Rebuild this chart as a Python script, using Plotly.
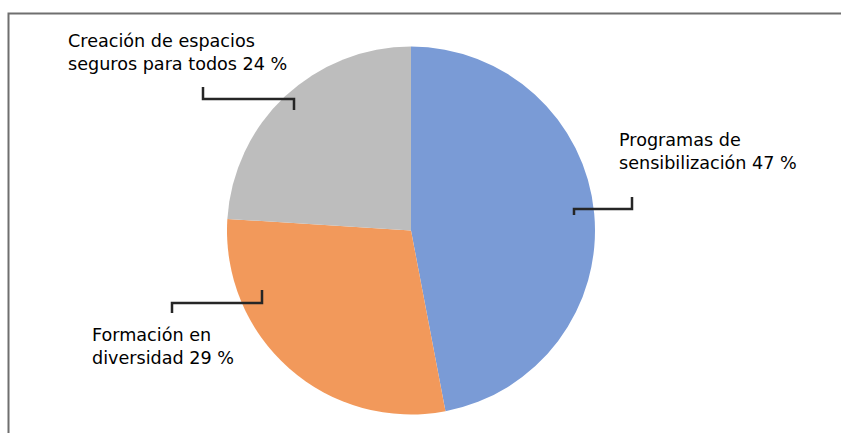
import plotly.graph_objects as go

# Data
categories = ["Programas de sensibilización", "Formación en diversidad", "Creación de espacios seguros para todos"]
values = [47, 29, 24]
label_texts = ["Programas de<br>sensibilización 47 %", "Formación en<br>diversidad 29 %", "Creación de espacios<br>seguros para todos 24 %"]
colors = ["#7A9BD6", "#F2995B", "#BDBDBD"]

W, H = 841, 433

def px(x):
    return x / W

def py(y):
    return 1 - y / H

cx, cy, r = 411, 230.5, 184

fig = go.Figure(go.Pie(
    labels=categories,
    values=values,
    sort=False,
    direction="clockwise",
    rotation=0,
    marker=dict(colors=colors, line=dict(width=0)),
    textinfo="none",
    hoverinfo="label+percent",
    showlegend=False,
    domain=dict(x=[px(cx - r), px(cx + r)], y=[py(cy + r), py(cy - r)]),
))

# label positions (pixel layout) and leader lines (bracket shapes)
label_pos = [(617, 152), (90, 346), (66, 53)]
leaders = [
    [(574, 215), (574, 209), (632, 209), (632, 197)],
    [(262, 290), (262, 303), (172, 303), (172, 313)],
    [(294, 110), (294, 99), (203, 99), (203, 87)],
]

annotations = []
for t, (x, y) in zip(label_texts, label_pos):
    annotations.append(dict(
        text=t, x=px(x), y=py(y), xref="paper", yref="paper",
        xanchor="left", yanchor="middle", align="left", showarrow=False,
        font=dict(family="DejaVu Sans", size=17.6, color="#000000"),
    ))

shapes = []
for pts in leaders:
    path = "M " + " L ".join(f"{px(x)},{py(y)}" for x, y in pts)
    shapes.append(dict(type="path", path=path, xref="paper", yref="paper",
                       line=dict(color="#262626", width=2.5)))

# outer chart border
shapes.append(dict(type="rect", xref="paper", yref="paper",
                   x0=px(8.5), x1=px(845), y0=py(440), y1=py(13.5),
                   line=dict(color="#6F6F6F", width=2)))

fig.update_layout(
    width=W, height=H,
    margin=dict(l=0, r=0, t=0, b=0),
    paper_bgcolor="white", plot_bgcolor="white",
    annotations=annotations,
    shapes=shapes,
)

fig.write_html("out.html", config={"displayModeBar": False},
               post_script="document.body.style.margin='0';document.body.style.overflow='hidden';")
